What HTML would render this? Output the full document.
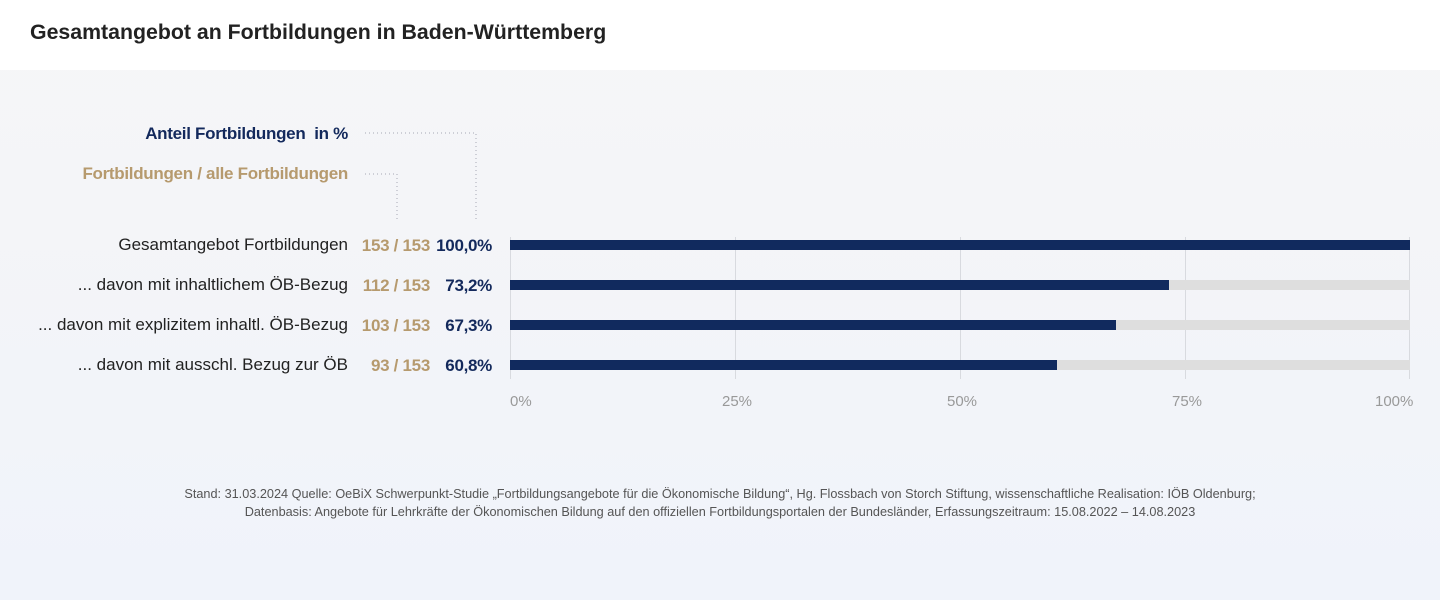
<!DOCTYPE html>
<html><head><meta charset="utf-8"><style>
body{margin:0;width:1440px;height:600px;overflow:hidden;font-family:"Liberation Sans",sans-serif;background:linear-gradient(#f6f6f7,#f0f3fa);position:relative}
.hdr{position:absolute;left:0;top:0;width:1440px;height:70px;background:#fff}
.t{position:absolute;white-space:nowrap}
.r{text-align:right}
.lab{font-size:17px;color:#222;right:1092px}
.fr{font-size:17px;color:#b69a6e;font-weight:bold;right:1010px;letter-spacing:-0.3px}
.pc{font-size:17px;color:#13295c;font-weight:bold;right:948px;letter-spacing:-0.3px}
.bar{position:absolute;left:510px;width:900px;height:10px;background:#dedede}
.bar div{height:100%;background:#112a5e}
.g{position:absolute;top:237px;width:1px;height:142px;background:#d8dadf}
.tk{font-size:15px;color:#999;top:393px}
.ft{font-size:12.7px;color:#555;left:0;width:1440px;text-align:center;line-height:18px}
</style></head><body>
<div class="hdr"></div>
<div class="t" style="left:30px;top:20px;font-size:21.3px;font-weight:bold;color:#222">Gesamtangebot an Fortbildungen in Baden-Württemberg</div>
<div class="t r" style="right:1092px;top:124px;font-size:17px;font-weight:bold;color:#13295c;letter-spacing:-0.3px">Anteil Fortbildungen&nbsp; in %</div>
<div class="t r" style="right:1092px;top:164px;font-size:17px;font-weight:bold;color:#b69a6e;letter-spacing:-0.3px">Fortbildungen / alle Fortbildungen</div>
<svg style="position:absolute;left:0;top:0" width="600" height="240"><g stroke="#a6a8b4" stroke-dasharray="1 3" fill="none"><path d="M365 133H476V222"/><path d="M365 174H397V222"/></g></svg>
<div class="g" style="left:510px"></div><div class="g" style="left:735px"></div><div class="g" style="left:960px"></div><div class="g" style="left:1185px"></div><div class="g" style="left:1409px"></div>
<div class="bar" style="top:240px"><div style="width:100%"></div></div>
<div class="bar" style="top:280px"><div style="width:73.2%"></div></div>
<div class="bar" style="top:320px"><div style="width:67.3%"></div></div>
<div class="bar" style="top:360px"><div style="width:60.8%"></div></div>
<div class="t lab" style="top:235px">Gesamtangebot Fortbildungen</div>
<div class="t lab" style="top:275px">... davon mit inhaltlichem ÖB-Bezug</div>
<div class="t lab" style="top:315px">... davon mit explizitem inhaltl. ÖB-Bezug</div>
<div class="t lab" style="top:355px">... davon mit ausschl. Bezug zur ÖB</div>
<div class="t fr" style="top:236px">153 / 153</div>
<div class="t fr" style="top:276px">112 / 153</div>
<div class="t fr" style="top:316px">103 / 153</div>
<div class="t fr" style="top:356px">93 / 153</div>
<div class="t pc" style="top:236px">100,0%</div>
<div class="t pc" style="top:276px">73,2%</div>
<div class="t pc" style="top:316px">67,3%</div>
<div class="t pc" style="top:356px">60,8%</div>
<div class="t tk" style="left:510px">0%</div>
<div class="t tk" style="left:722px">25%</div>
<div class="t tk" style="left:947px">50%</div>
<div class="t tk" style="left:1172px">75%</div>
<div class="t tk" style="left:1375px">100%</div>
<div class="t ft" style="top:485px">Stand: 31.03.2024 Quelle: OeBiX Schwerpunkt-Studie „Fortbildungsangebote für die Ökonomische Bildung“, Hg. Flossbach von Storch Stiftung, wissenschaftliche Realisation: IÖB Oldenburg;<br>Datenbasis: Angebote für Lehrkräfte der Ökonomischen Bildung auf den offiziellen Fortbildungsportalen der Bundesländer, Erfassungszeitraum: 15.08.2022 – 14.08.2023</div>
</body></html>
